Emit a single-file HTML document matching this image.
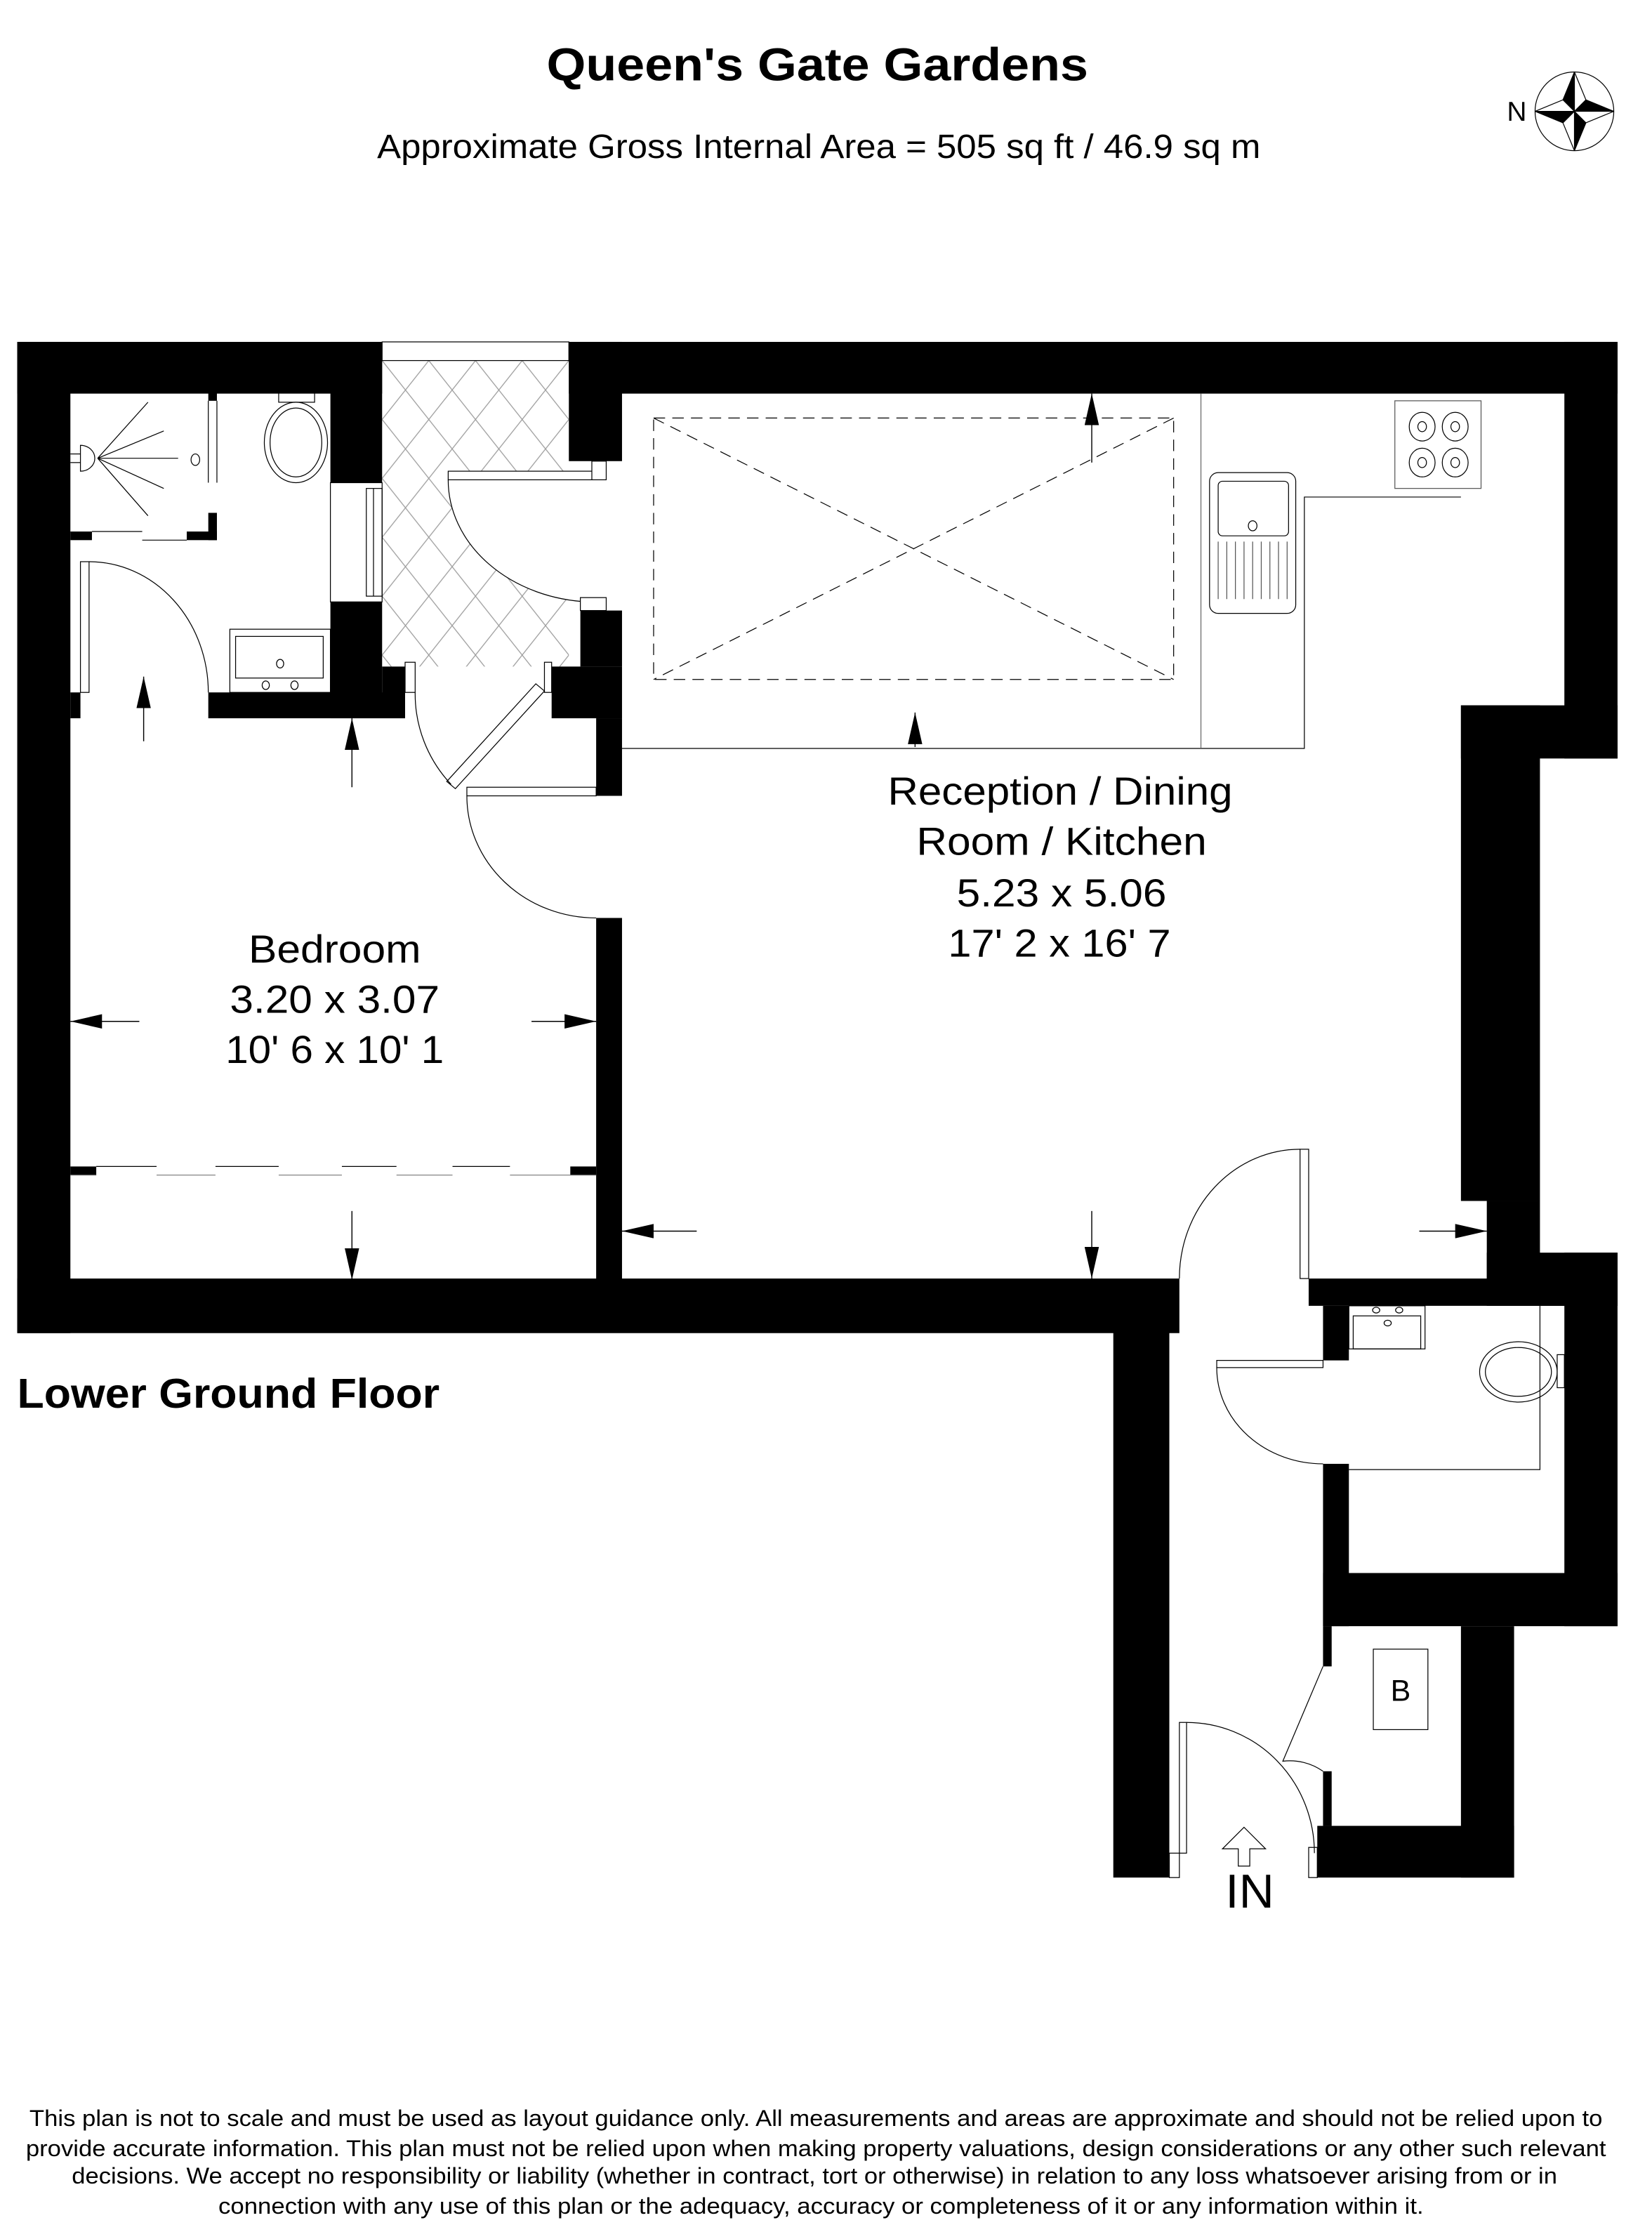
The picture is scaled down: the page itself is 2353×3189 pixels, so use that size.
<!DOCTYPE html>
<html><head><meta charset="utf-8"><style>html,body{margin:0;padding:0;background:#fff}svg{display:block}</style></head>
<body>
<svg xmlns="http://www.w3.org/2000/svg" width="2353" height="3189" viewBox="0 0 1150 1558.6" preserveAspectRatio="none" font-family="'Liberation Sans', sans-serif">
<defs>
<pattern id="lat" x="266" y="251" width="32.5" height="41" patternUnits="userSpaceOnUse">
<path d="M0,0 L32.5,41 M32.5,0 L0,41" stroke="#999" stroke-width="0.6" fill="none"/>
</pattern>
<marker id="ah" viewBox="0 0 22 10" refX="22" refY="5" markerWidth="22" markerHeight="10" markerUnits="userSpaceOnUse" orient="auto"><path d="M0,0 L22,5 L0,10 Z" fill="#000"/></marker>
</defs>
<rect width="1150" height="1558.6" fill="#fff"/>

<text x="569" y="56" font-size="32" font-weight="bold" text-anchor="middle" textLength="377" lengthAdjust="spacingAndGlyphs">Queen's Gate Gardens</text>
<text x="570" y="110" font-size="23.5" text-anchor="middle" textLength="615" lengthAdjust="spacingAndGlyphs">Approximate Gross Internal Area = 505 sq ft / 46.9 sq m</text>

<text x="1049" y="84" font-size="19">N</text>
<g transform="translate(1096,77.5)" stroke="#000" stroke-width="0.6">
<circle r="27.4" fill="none"/>
<path d="M0,-27.4 L-8,-8 L0,0 Z M27.4,0 L8,-8 L0,0 Z M0,27.4 L8,8 L0,0 Z M-27.4,0 L-8,8 L0,0 Z" fill="#000"/>
<path d="M0,-27.4 L8,-8 L0,0 Z M27.4,0 L8,8 L0,0 Z M0,27.4 L-8,8 L0,0 Z M-27.4,0 L-8,-8 L0,0 Z" fill="#fff"/>
</g>

<rect x="266" y="251" width="130" height="213" fill="url(#lat)"/>
<rect x="266" y="238" width="130" height="13" fill="#fff" stroke="#000" stroke-width="0.6"/>
<path d="M415,334 L312,334 A103,85 0 0 0 415,419 Z" fill="#fff"/>
<path d="M312,334 A103,85 0 0 0 410,419" fill="none" stroke="#000" stroke-width="0.6"/>
<rect x="312" y="328" width="103" height="6" fill="#fff" stroke="#000" stroke-width="0.6"/>
<rect x="412" y="321" width="10" height="13" fill="#fff" stroke="#000" stroke-width="0.6"/>
<rect x="404" y="416" width="18" height="9" fill="#fff" stroke="#000" stroke-width="0.6"/>

<g fill="#000">
<rect x="12" y="238" width="254" height="36"/>
<rect x="396" y="238" width="730" height="36"/>
<rect x="12" y="238" width="37" height="690"/>
<rect x="230" y="238" width="36" height="98"/>
<rect x="230" y="419" width="36" height="81"/>
<rect x="145" y="482" width="137" height="18"/>
<rect x="266" y="464" width="16" height="36"/>
<rect x="49" y="482" width="7" height="18"/>
<rect x="396" y="238" width="37" height="83"/>
<rect x="404" y="425" width="29" height="39"/>
<rect x="384" y="464" width="49" height="36"/>
<rect x="415" y="500" width="18" height="54"/>
<rect x="415" y="639" width="18" height="255"/>
<rect x="12" y="890" width="809" height="38"/>
<rect x="775" y="890" width="39" height="417"/>
<rect x="1089" y="238" width="37" height="290"/>
<rect x="1017" y="491" width="109" height="37"/>
<rect x="1017" y="491" width="55" height="345"/>
<rect x="1035" y="836" width="37" height="54"/>
<rect x="1035" y="872" width="91" height="37"/>
<rect x="911" y="890" width="215" height="19"/>
<rect x="1089" y="872" width="37" height="260"/>
<rect x="921" y="909" width="18" height="38"/>
<rect x="921" y="1019" width="18" height="113"/>
<rect x="921" y="1095" width="205" height="37"/>
<rect x="921" y="1132" width="6" height="28"/>
<rect x="1017" y="1132" width="37" height="175"/>
<rect x="917" y="1271" width="137" height="36"/>
<rect x="921" y="1233" width="6" height="38"/>
<rect x="49" y="370" width="15" height="6"/>
<rect x="130" y="370" width="21" height="6"/>
<rect x="145" y="357" width="6" height="19"/>
<rect x="145" y="273" width="6" height="6"/>
<rect x="49" y="812" width="18" height="6"/>
<rect x="397" y="812" width="18" height="6"/>
</g>

<g fill="none" stroke="#000" stroke-width="0.6">
<rect x="230" y="336" width="36" height="83"/>
<rect x="255" y="340" width="11" height="75"/>
<line x1="260" y1="340" x2="260" y2="415"/>
<line x1="151" y1="279" x2="151" y2="336"/>
<line x1="145" y1="279" x2="145" y2="336"/>
<line x1="64" y1="370" x2="99" y2="370"/>
<line x1="99" y1="376" x2="130" y2="376"/>
<path d="M56,310 A10,9 0 0 1 56,328 Z"/>
<line x1="49" y1="316" x2="56" y2="316"/><line x1="49" y1="322" x2="56" y2="322"/>
<path d="M68,319 L103,280 M68,319 L114,300 M68,319 L124,319 M68,319 L114,340 M68,319 L103,359"/>
<ellipse cx="136" cy="320" rx="3" ry="4"/>
<rect x="194" y="273" width="25" height="7"/>
<ellipse cx="206" cy="308" rx="22" ry="28"/>
<ellipse cx="206" cy="308" rx="18" ry="24"/>
<rect x="160" y="438" width="70" height="44"/>
<rect x="164" y="443" width="61" height="29"/>
<ellipse cx="195" cy="462" rx="2.5" ry="3"/>
<ellipse cx="185" cy="477" rx="2.5" ry="3"/>
<ellipse cx="205" cy="477" rx="2.5" ry="3"/>
<rect x="56" y="391" width="6" height="91"/>
<path d="M62,391 A83,91 0 0 1 145,482"/>
<rect x="282" y="461" width="7" height="21"/>
<rect x="379" y="461" width="5" height="21"/>
<path d="M289,482 A92,92 0 0 0 314,546"/>
<path d="M311,544 L373,476 L379,481 L317,549 Z"/>
<rect x="325" y="548" width="90" height="6"/>
<path d="M325,554 A90,85 0 0 0 415,639"/>
<line x1="67" y1="812" x2="109" y2="812"/><line x1="150" y1="812" x2="194" y2="812"/><line x1="238" y1="812" x2="276" y2="812"/><line x1="315" y1="812" x2="355" y2="812"/>
<g stroke="#777"><line x1="49" y1="818" x2="67" y2="818"/><line x1="109" y1="818" x2="150" y2="818"/><line x1="194" y1="818" x2="238" y2="818"/><line x1="276" y1="818" x2="315" y2="818"/><line x1="355" y1="818" x2="415" y2="818"/></g>
<path d="M433,521 L908,521 L908,346 L1017,346" />
<line x1="836" y1="274" x2="836" y2="521" stroke="#666"/>
<rect x="971" y="279" width="60" height="61" stroke="#555"/>
<g>
<ellipse cx="990" cy="297" rx="9" ry="10"/><ellipse cx="990" cy="297" rx="3" ry="3.5"/>
<ellipse cx="1013" cy="297" rx="9" ry="10"/><ellipse cx="1013" cy="297" rx="3" ry="3.5"/>
<ellipse cx="990" cy="322" rx="9" ry="10"/><ellipse cx="990" cy="322" rx="3" ry="3.5"/>
<ellipse cx="1013" cy="322" rx="9" ry="10"/><ellipse cx="1013" cy="322" rx="3" ry="3.5"/>
</g>
<rect x="842" y="329" width="60" height="98" rx="6"/>
<rect x="848" y="335" width="49" height="38" rx="3"/>
<ellipse cx="872" cy="366" rx="3" ry="3.5"/>
<path d="M848,377V417 M854,377V417 M860,377V417 M866,377V417 M872,377V417 M878,377V417 M884,377V417 M890,377V417 M896,377V417" stroke="#555"/>
<g stroke-dasharray="8,5">
<rect x="455" y="291" width="362" height="182"/>
<line x1="455" y1="291" x2="817" y2="473"/>
<line x1="817" y1="291" x2="455" y2="473"/>
</g>
<rect x="905" y="800" width="6" height="90"/>
<path d="M905,800 A84,90 0 0 0 821,890"/>
<rect x="847" y="947" width="74" height="5"/>
<path d="M847,952 A74,67 0 0 0 921,1019"/>
<path d="M939,1023 L1072,1023 L1072,909"/>
<rect x="939" y="909" width="53" height="30"/>
<rect x="942" y="916" width="47" height="23"/>
<ellipse cx="958" cy="912" rx="2.5" ry="2"/><ellipse cx="974" cy="912" rx="2.5" ry="2"/><ellipse cx="966" cy="921" rx="2.5" ry="2"/>
<rect x="1084" y="943" width="5" height="23"/>
<ellipse cx="1057" cy="955" rx="27" ry="21"/>
<ellipse cx="1057" cy="955" rx="23" ry="17"/>
<path d="M921,1160 L893,1226 A40,40 0 0 1 921,1233"/>
<rect x="956" y="1148" width="38" height="56"/>
<rect x="821" y="1199" width="5" height="91"/>
<path d="M826,1199 A89,91 0 0 1 915,1290"/>
<rect x="814" y="1290" width="7" height="17"/>
<rect x="911" y="1286" width="6" height="21"/>
<path d="M866,1272 L851,1287 L862,1287 L862,1299 L870,1299 L870,1287 L881,1287 Z"/>
</g>

<g stroke="#000" stroke-width="0.7" marker-end="url(#ah)">
<line x1="100" y1="516" x2="100" y2="471"/>
<line x1="245" y1="548" x2="245" y2="500"/>
<line x1="97" y1="711" x2="49" y2="711"/>
<line x1="370" y1="711" x2="415" y2="711"/>
<line x1="245" y1="843" x2="245" y2="891"/>
<line x1="637" y1="520" x2="637" y2="496"/>
<line x1="760" y1="322" x2="760" y2="274"/>
<line x1="485" y1="857" x2="433" y2="857"/>
<line x1="760" y1="843" x2="760" y2="890"/>
<line x1="988" y1="857" x2="1035" y2="857"/>
</g>

<g font-size="27" lengthAdjust="spacingAndGlyphs">
<text x="618" y="560" textLength="240" lengthAdjust="spacingAndGlyphs">Reception / Dining</text>
<text x="638" y="595" textLength="202" lengthAdjust="spacingAndGlyphs">Room / Kitchen</text>
<text x="666" y="631" textLength="146" lengthAdjust="spacingAndGlyphs">5.23 x 5.06</text>
<text x="660" y="666" textLength="155" lengthAdjust="spacingAndGlyphs">17' 2 x 16' 7</text>
<text x="173" y="670" textLength="120" lengthAdjust="spacingAndGlyphs">Bedroom</text>
<text x="160" y="705" textLength="146" lengthAdjust="spacingAndGlyphs">3.20 x 3.07</text>
<text x="157" y="740" textLength="152" lengthAdjust="spacingAndGlyphs">10' 6 x 10' 1</text>
</g>
<text x="975" y="1184" font-size="21" text-anchor="middle">B</text>
<text x="853" y="1328" font-size="33" textLength="34" lengthAdjust="spacingAndGlyphs">IN</text>
<text x="12" y="980" font-size="29" font-weight="bold" textLength="294" lengthAdjust="spacingAndGlyphs">Lower Ground Floor</text>

<g font-size="16">
<text x="20.5" y="1480" textLength="1095" lengthAdjust="spacingAndGlyphs">This plan is not to scale and must be used as layout guidance only. All measurements and areas are approximate and should not be relied upon to</text>
<text x="18" y="1501" textLength="1100" lengthAdjust="spacingAndGlyphs">provide accurate information. This plan must not be relied upon when making property valuations, design considerations or any other such relevant</text>
<text x="50" y="1520" textLength="1034" lengthAdjust="spacingAndGlyphs">decisions. We accept no responsibility or liability (whether in contract, tort or otherwise) in relation to any loss whatsoever arising from or in</text>
<text x="152" y="1541" textLength="839" lengthAdjust="spacingAndGlyphs">connection with any use of this plan or the adequacy, accuracy or completeness of it or any information within it.</text>
</g>
</svg>
</body></html>
